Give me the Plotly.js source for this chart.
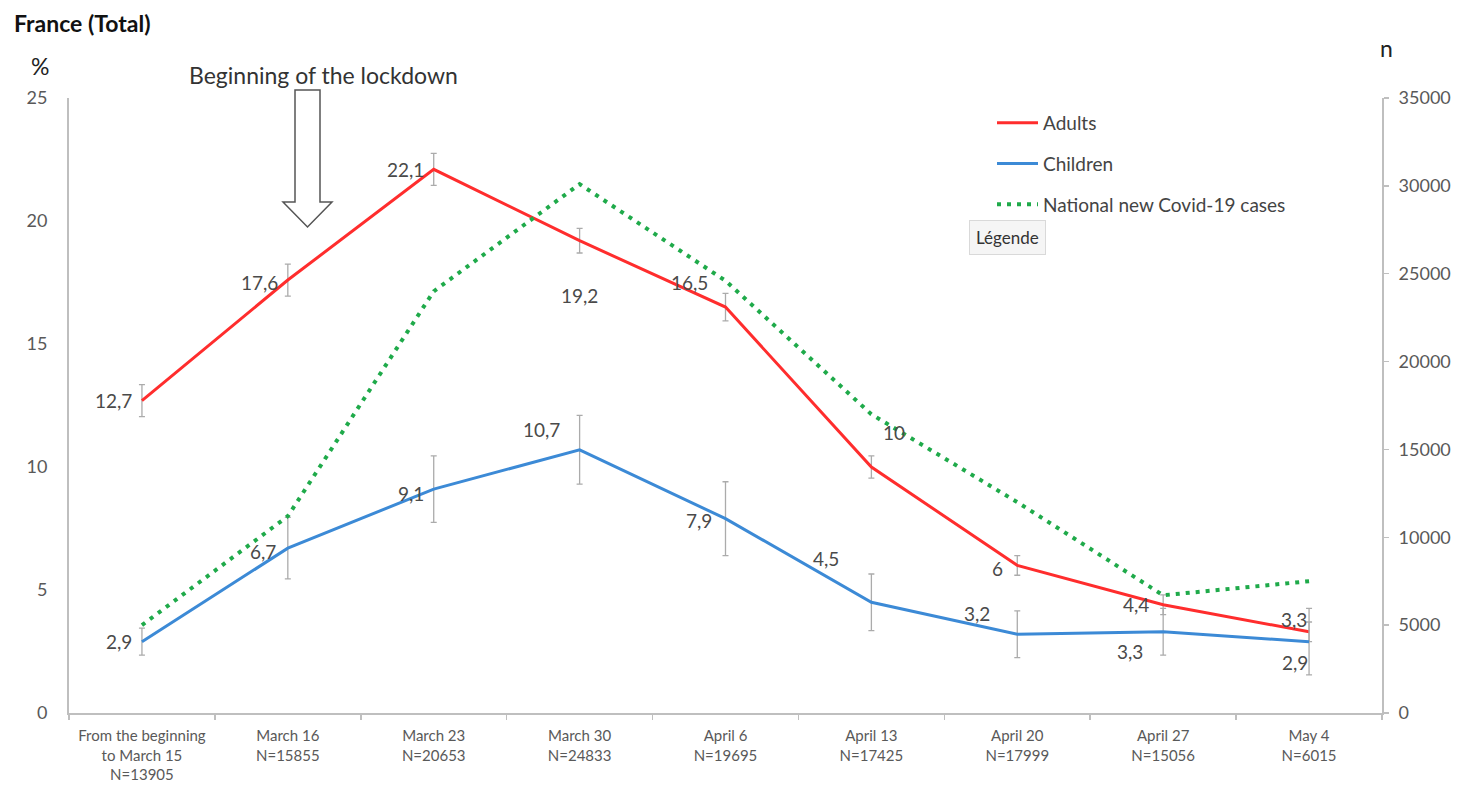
<!DOCTYPE html>
<html>
<head>
<meta charset="utf-8">
<script src="https://cdn.plot.ly/plotly-3.0.1.min.js"></script>
<style>
  html, body { margin: 0; padding: 0; background: #ffffff; }
  #chart { width: 1464px; height: 786px; }
</style>
</head>
<body>
<div id="chart"></div>
<script>
// ---------------- data ----------------
const weeks = ['From the beginning<br>to March 15', 'March 16', 'March 23', 'March 30', 'April 6', 'April 13', 'April 20', 'April 27', 'May 4'];
const sampleN = [13905, 15855, 20653, 24833, 19695, 17425, 17999, 15056, 6015];
const adults = [12.7, 17.6, 22.1, 19.2, 16.5, 10, 6, 4.4, 3.3];
const adultsErr = [0.65, 0.65, 0.65, 0.5, 0.56, 0.45, 0.4, 0.4, 0.4];
const children = [2.9, 6.7, 9.1, 10.7, 7.9, 4.5, 3.2, 3.3, 2.9];
const childrenErr = [0.55, 1.25, 1.35, 1.4, 1.5, 1.15, 0.95, 0.95, 1.35];
const newCases = [5000, 11200, 24000, 30100, 24600, 17000, 12000, 6700, 7500];
const seriesNames = ['Adults', 'Children', 'National new Covid-19 cases'];
const yTicks = [0, 5, 10, 15, 20, 25];
const y2Ticks = [0, 5000, 10000, 15000, 20000, 25000, 30000, 35000];

// ---------------- style ----------------
const W = 1464, H = 786;
const M = { l: 69, r: 82, t: 98, b: 73 };
const FONT = 'Lato, "Open Sans", "Liberation Sans", sans-serif';
const RED = '#ff2d2d', BLUE = '#3c8ad6', GREEN = '#1faa4a';
const AXIS = '#bfbfbf', TICKTXT = '#595959', LBL = '#4a4a4a';

const categories = weeks.map((w, i) => w + '<br>N=' + sampleN[i]);
const pw = W - M.l - M.r, ph = H - M.t - M.b;
const px = x => (x - M.l) / pw;
const py = y => (H - M.b - y) / ph;
const fmt = v => String(v).replace('.', ',');

// label placement (style only): [xanchor, xshift, yshift]
const adultsPos = [['right', -8, 0], ['right', -8, -2], ['right', -8, 0], ['center', 0, -55], ['right', -16, 25],
                   ['center', 23, 35], ['right', -12, -3], ['right', -12, 0], ['center', -15, 12]];
const childrenPos = [['right', -8, 0], ['right', -10, -3], ['right', -8, -4], ['right', -18, 20], ['right', -12, -2],
                     ['center', -45, 44], ['center', -40, 21], ['center', -33, -20], ['center', -14, -21]];

const traces = [
  {
    x: categories, y: adults, name: seriesNames[0], type: 'scatter', mode: 'lines',
    line: { color: RED, width: 3 }, legendgroup: 'a',
    error_y: { type: 'data', array: adultsErr, visible: true, color: '#ababab', thickness: 1.3, width: 3 }
  },
  {
    x: categories, y: children, name: seriesNames[1], type: 'scatter', mode: 'lines',
    line: { color: BLUE, width: 3 }, legendgroup: 'b',
    error_y: { type: 'data', array: childrenErr, visible: true, color: '#ababab', thickness: 1.3, width: 3 }
  },
  {
    x: categories, y: newCases, name: seriesNames[2], type: 'scatter', mode: 'lines', yaxis: 'y2',
    line: { color: GREEN, width: 4, dash: '4px,6px' }, legendgroup: 'c'
  }
];

const annotations = [];
adults.forEach((v, i) => annotations.push({
  x: categories[i], y: v, xref: 'x', yref: 'y', text: fmt(v), showarrow: false,
  xanchor: adultsPos[i][0], yanchor: 'middle', xshift: adultsPos[i][1], yshift: adultsPos[i][2],
  font: { family: FONT, size: 19, color: LBL }
}));
children.forEach((v, i) => annotations.push({
  x: categories[i], y: v, xref: 'x', yref: 'y', text: fmt(v), showarrow: false,
  xanchor: childrenPos[i][0], yanchor: 'middle', xshift: childrenPos[i][1], yshift: childrenPos[i][2],
  font: { family: FONT, size: 19, color: LBL }
}));
annotations.push(
  { xref: 'paper', yref: 'paper', x: px(40), y: py(66), xanchor: 'center', yanchor: 'middle', text: '%', showarrow: false,
    font: { family: FONT, size: 23, color: '#222' } },
  { xref: 'paper', yref: 'paper', x: px(1386), y: py(48), xanchor: 'center', yanchor: 'middle', text: 'n', showarrow: false,
    font: { family: FONT, size: 23, color: '#222' } },
  { xref: 'paper', yref: 'paper', x: px(323), y: py(75), xanchor: 'center', yanchor: 'middle', text: 'Beginning of the lockdown', showarrow: false,
    font: { family: FONT, size: 23, color: '#333' } },
  { xref: 'paper', yref: 'paper', x: px(1007), y: py(237), xanchor: 'center', yanchor: 'middle', text: 'Légende', showarrow: false,
    bgcolor: '#f5f5f5', bordercolor: '#d9d9d9', borderwidth: 1, borderpad: 6,
    font: { family: FONT, size: 17, color: '#333' } }
);

// hollow "down" arrow (decoration)
const arrowPts = [[295, 90], [320, 90], [320, 202], [332, 202], [307.5, 227], [283, 202], [295, 202]];
const arrowPath = 'M' + arrowPts.map(p => px(p[0]) + ',' + py(p[1])).join(' L') + ' Z';

const layout = {
  width: W, height: H,
  margin: M,
  paper_bgcolor: '#ffffff', plot_bgcolor: '#ffffff',
  font: { family: FONT, color: TICKTXT },
  title: { text: '<b>France (Total)</b>', x: 14 / W, xanchor: 'left', xref: 'container',
           y: 1 - 24 / H, yanchor: 'middle', yref: 'container',
           font: { family: FONT, size: 23, color: '#111' } },
  showlegend: true,
  legend: { x: px(992), y: py(104), xanchor: 'left', yanchor: 'top', bgcolor: 'rgba(0,0,0,0)',
            font: { family: FONT, size: 19, color: '#444' }, tracegroupgap: 13, itemwidth: 41 },
  xaxis: {
    type: 'category', range: [-0.5, 8.5], showgrid: false, zeroline: false,
    showline: true, linecolor: AXIS, linewidth: 2, ticks: 'outside', tickson: 'boundaries',
    ticklen: 5, tickcolor: AXIS, tickwidth: 1.5, tickfont: { family: FONT, size: 15, color: TICKTXT },
    ticklabelstandoff: 8, automargin: false
  },
  yaxis: {
    range: [0, 25], tickvals: yTicks, showgrid: false, zeroline: false,
    showline: true, linecolor: AXIS, linewidth: 2, ticks: '',
    tickfont: { family: FONT, size: 18, color: TICKTXT }, ticklabelstandoff: 16, automargin: false
  },
  yaxis2: {
    range: [0, 35000], tickvals: y2Ticks, tickformat: 'd', overlaying: 'y', side: 'right', showgrid: false, zeroline: false,
    showline: true, linecolor: AXIS, linewidth: 2, ticks: 'outside', ticklen: 5, tickcolor: AXIS, tickwidth: 1.5,
    tickfont: { family: FONT, size: 18, color: TICKTXT }, ticklabelstandoff: 6, automargin: false
  },
  shapes: [
    { type: 'path', xref: 'paper', yref: 'paper', path: arrowPath,
      line: { color: '#555', width: 1.5 }, fillcolor: '#ffffff' }
  ],
  annotations: annotations,
  hovermode: false
};

Plotly.newPlot('chart', traces, layout, { displayModeBar: false, staticPlot: true });
</script>
</body>
</html>
